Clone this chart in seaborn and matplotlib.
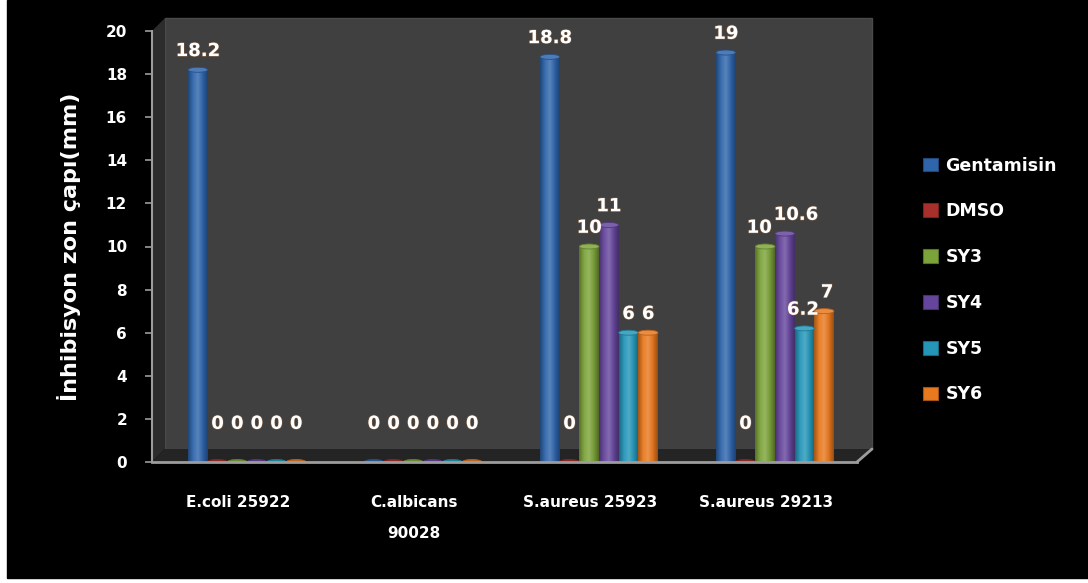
import numpy as np
import pandas as pd
import matplotlib
matplotlib.use("Agg")
import matplotlib.pyplot as plt
import seaborn as sns
from matplotlib.patches import Rectangle, Polygon, Ellipse, Patch
from matplotlib.lines import Line2D
from matplotlib.colors import LinearSegmentedColormap, to_rgb
from matplotlib import transforms
import matplotlib.patheffects as pe

# --- data -------------------------------------------------------------
organisms = ["E.coli 25922", "C.albicans\n90028", "S.aureus 25923", "S.aureus 29213"]
compounds = ["Gentamisin", "DMSO", "SY3", "SY4", "SY5", "SY6"]
gentamisin = [18.2, 0, 18.8, 19]
dmso = [0, 0, 0, 0]
sy3 = [0, 0, 10, 10]
sy4 = [0, 0, 11, 10.6]
sy5 = [0, 0, 6, 6.2]
sy6 = [0, 0, 6, 7]
y_ticks = list(range(0, 21, 2))
ylabel = "İnhibisyon zon çapı(mm)"

colors = ["#2f65ab", "#a8302c", "#7ca33a", "#65469c", "#2596b8", "#e8791f"]

series = [gentamisin, dmso, sy3, sy4, sy5, sy6]
df = pd.DataFrame(
    [(org, comp, vals[i]) for comp, vals in zip(compounds, series)
     for i, org in enumerate(organisms)],
    columns=["organism", "compound", "value"],
)

# --- figure -----------------------------------------------------------
sns.set_theme(style="white")
plt.rcParams["font.family"] = ["DejaVu Sans"]

W, H = 1088, 583
fig = plt.figure(figsize=(W / 100, H / 100), dpi=100, facecolor="white")


def px(x, y):
    return (x / W, 1 - y / H)


# black chart area
fig.patches.append(Rectangle(px(7, 578), (W - 7) / W, 578 / H,
                             transform=fig.transFigure, color="black", zorder=-10))
# back wall, side wall and floor of the 3-D box
fig.patches.append(Polygon([px(165, 18), px(872, 18), px(872, 449), px(165, 449)],
                           closed=True, transform=fig.transFigure,
                           facecolor="#404040", edgecolor="#4a4a4a", lw=1, zorder=-5))
fig.patches.append(Polygon([px(152, 31), px(165, 18), px(165, 449), px(152, 462)],
                           closed=True, transform=fig.transFigure,
                           facecolor="#2c2c2c", edgecolor="none", zorder=-4))
fig.patches.append(Polygon([px(152, 462), px(165, 449), px(872, 449), px(857, 462)],
                           closed=True, transform=fig.transFigure,
                           facecolor="#242424", edgecolor="none", zorder=-4))
fig.lines.append(Line2D([px(857, 462)[0], px(872, 449)[0]],
                        [px(857, 462)[1], px(872, 449)[1]],
                        transform=fig.transFigure, color="#9c9c9c", lw=2, zorder=-3))

ax = fig.add_axes([152 / W, (H - 462) / H, (857 - 152) / W, (462 - 31) / H])
ax.patch.set_visible(False)

sns.barplot(data=df, x="organism", y="value", hue="compound",
            order=organisms, hue_order=compounds, palette=colors,
            width=0.67, saturation=1, errorbar=None, legend=False, ax=ax)

xlim = (-0.54, 3.466)
ylim = (0, 20)
ax.set_xlim(*xlim)
ax.set_ylim(*ylim)
px_per_unit = (462 - 31) / 20.0
cap_h = 5.0 / px_per_unit


def shade(c, f):
    r, g, b = to_rgb(c)
    if f >= 1:
        return tuple(min(1, v + (1 - v) * (f - 1)) for v in (r, g, b))
    return tuple(v * f for v in (r, g, b))


glow = [pe.withStroke(linewidth=1.0, foreground="#c0783a", alpha=0.35)]

labels_by_group = {i: [] for i in range(len(organisms))}
for ci, container in enumerate(ax.containers):
    col = colors[ci]
    cmap = LinearSegmentedColormap.from_list(
        f"cyl{ci}",
        [shade(col, 0.7), shade(col, 1.05), shade(col, 1.2), shade(col, 0.95), shade(col, 0.65)],
    )
    grad = np.linspace(0, 1, 64).reshape(1, -1)
    for gi, bar in enumerate(container):
        nx, nw, h = bar.get_x(), bar.get_width(), bar.get_height()
        bar.set_edgecolor("none")
        cx = nx + nw / 2
        if h > 0:
            im = ax.imshow(grad, extent=[nx, nx + nw, 0, h], cmap=cmap,
                           aspect="auto", zorder=bar.get_zorder() + 0.1,
                           interpolation="bilinear")
            im.set_clip_path(bar)
        ax.add_patch(Ellipse((cx, h), nw, cap_h, facecolor=shade(col, 1.15 if h > 0 else 0.85),
                             edgecolor=shade(col, 0.8), lw=0.6,
                             zorder=bar.get_zorder() + 0.2))
        t = ax.annotate(f"{h:g}", xy=(cx, h), xytext=(0, 7 if h > 0 else 21),
                        textcoords="offset points", ha="center", va="bottom",
                        color="white", fontsize=13, fontweight="bold",
                        path_effects=glow, zorder=10)
        labels_by_group[gi].append(t)

ax.set_xlim(*xlim)
ax.set_ylim(*ylim)
ax.set_yticks(y_ticks)
ax.set_yticklabels([str(t) for t in y_ticks])

for side in ("top", "right"):
    ax.spines[side].set_visible(False)
ax.spines["left"].set_color("#9c9c9c")
ax.spines["left"].set_linewidth(1.5)
ax.spines["bottom"].set_color("#9c9c9c")
ax.spines["bottom"].set_linewidth(2)

ax.tick_params(axis="y", colors="#9c9c9c", length=5, width=1.2, pad=13,
               labelcolor="white", labelsize=11, left=True)
ax.tick_params(axis="x", length=0, pad=24, labelcolor="white", labelsize=11)
for lab in ax.get_yticklabels():
    lab.set_fontweight("bold")
shift = transforms.ScaledTranslation(-9 / 100, 0, fig.dpi_scale_trans)
for lab in ax.get_xticklabels():
    lab.set_fontweight("bold")
    lab.set_linespacing(2.3)
    lab.set_transform(lab.get_transform() + shift)

ax.set_xlabel("")
ax.set_ylabel(ylabel, fontsize=16, fontweight="bold", color="white", labelpad=18)

handles = [Patch(facecolor=c, edgecolor=shade(c, 0.7), lw=0.8) for c in colors]
fig.legend(handles, compounds, loc="center left", bbox_to_anchor=(923 / W, 1 - 280 / H),
           frameon=False, handlelength=0.85, handleheight=0.85, handletextpad=0.45,
           labelspacing=1.6, borderpad=0, borderaxespad=0,
           prop={"size": 12.5, "weight": "bold"}, labelcolor="white")

# nudge value labels apart where neighbours in a group would collide
fig.canvas.draw()
renderer = fig.canvas.get_renderer()
for gi, texts in labels_by_group.items():
    for left, right in zip(texts[:-1], texts[1:]):
        a = left.get_window_extent(renderer)
        b = right.get_window_extent(renderer)
        if a.overlaps(b):
            gap = a.x1 - b.x0 + 2
            lx, ly = left.xyann
            rx, ry = right.xyann
            left.xyann = (lx - gap * 0.35 * 72 / 100, ly)
            right.xyann = (rx + gap * 0.65 * 72 / 100, ry)

fig.savefig("out.png", dpi=100, facecolor=fig.get_facecolor())
